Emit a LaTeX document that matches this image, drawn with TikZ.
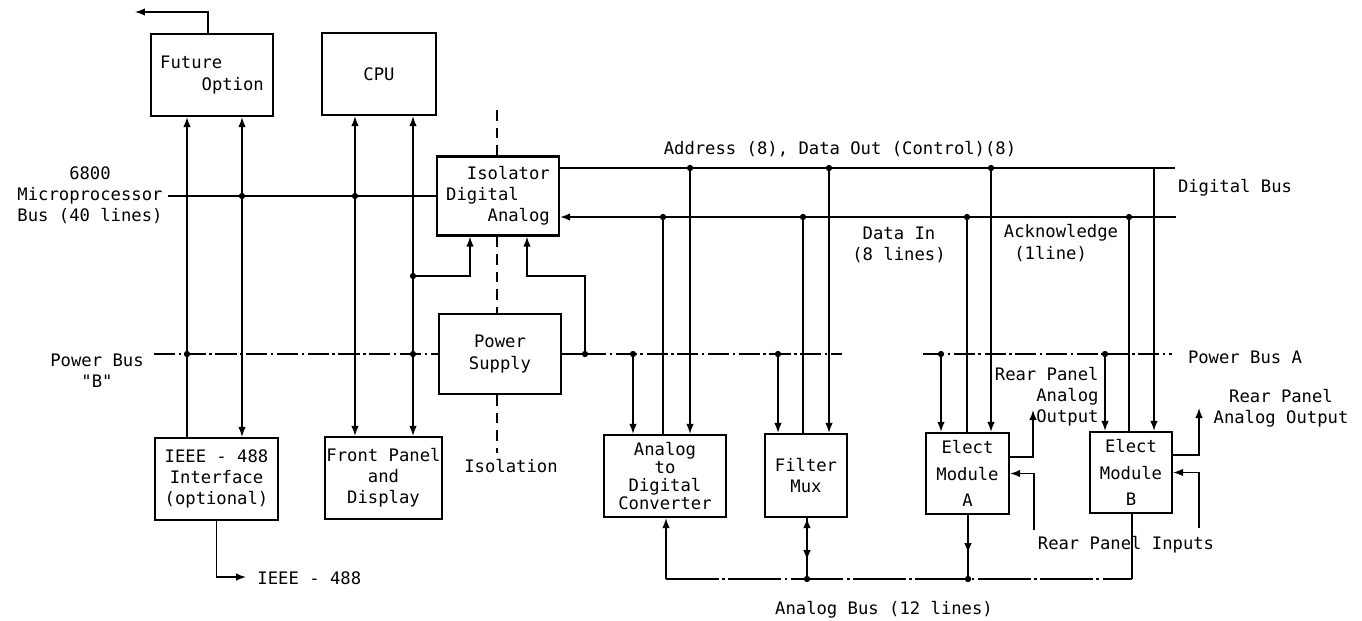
\documentclass[tikz,border=0pt]{standalone}
\usepackage{fontspec}
\setmonofont{DejaVu Sans Mono}
\usepackage{tikz}
\usetikzlibrary{arrows.meta}

\begin{document}
\begin{tikzpicture}[
  x=0.02cm, y=-0.02cm,
  >={Latex[length=2mm,width=1.5mm]},
  line width=0.8pt,
  box/.style={draw, line width=1.3pt, align=center, inner sep=1pt,
    font=\ttfamily\fontsize{9.8}{12}\selectfont},
  lbl/.style={align=center, inner sep=1pt, font=\ttfamily\fontsize{9.8}{12}\selectfont},
  pbus/.style={dash pattern=on 12pt off 2pt on 1.5pt off 2pt},
  abus/.style={dash pattern=on 30pt off 2pt on 1.5pt off 2pt},
  isol/.style={dash pattern=on 6pt off 4pt}
]
\useasboundingbox (0,0) rectangle (1362,620);
% blocks
\node[box, minimum width=2.44cm, minimum height=1.64cm, align=left] (fut) at (212,75)
  {Future\\\phantom{Futu}Option};
\node[box, minimum width=2.28cm, minimum height=1.64cm] (cpu) at (379,74) {CPU};
\node[box, minimum width=2.44cm, minimum height=1.58cm, align=left] (iso) at (498,196)
  {\phantom{Is}Isolator\\Digital\\\phantom{Isol}Analog};
\node[box, minimum width=2.44cm, minimum height=1.6cm] (psu) at (500,354) {Power\\Supply};
\node[box, minimum width=2.46cm, minimum height=1.64cm] (ieee) at (216.5,479)
  {IEEE - 488\\Interface\\(optional)};
\node[box, minimum width=2.34cm, minimum height=1.64cm] (fpd) at (383.5,478)
  {Front Panel\\and\\Display};
\node[box, minimum width=2.44cm, minimum height=1.64cm, font=\ttfamily\fontsize{9.8}{10.4}\selectfont]
  (adc) at (665,476) {Analog\\to\\Digital\\Converter};
\node[box, minimum width=1.64cm, minimum height=1.66cm] (fmux) at (806,475.5) {Filter\\Mux};
\node[box, minimum width=1.66cm, minimum height=1.62cm, font=\ttfamily\fontsize{9.8}{15}\selectfont]
  (ema) at (967.5,473.5) {Elect\\Module\\A};
\node[box, minimum width=1.64cm, minimum height=1.62cm, font=\ttfamily\fontsize{9.8}{15}\selectfont]
  (emb) at (1131,472.5) {Elect\\Module\\B};

% labels
\node[lbl] (mpulbl) at (90,195) {6800\\Microprocessor\\Bus (40 lines)};
\node[lbl] (pwrblbl) at (97,371) {Power Bus\\"B"};
\node[lbl] (addrlbl) at (840,149) {Address (8), Data Out (Control)(8)};
\node[lbl] (diglbl) at (1235,188) {Digital Bus};
\node[lbl] (dinlbl) at (899,245) {Data In\\(8 lines)};
\node[lbl, align=left] (acklbl) at (1061,243) {Acknowledge\\\phantom{A}(1line)};
\node[lbl] (pwralbl) at (1245,357) {Power Bus A};
\node[lbl, align=right, anchor=east] (rpalbl) at (1101,397) {Rear Panel\\Analog\\Output};
\node[lbl] (rpblbl) at (1281,408) {Rear Panel\\Analog Output};
\node[lbl] (rpinlbl) at (1126,545) {Rear Panel Inputs};
\node[lbl] (abuslbl) at (884,610) {Analog Bus (12 lines)};
\node[lbl] (isollbl) at (511,466) {Isolation};

% bus points
\coordinate (mpuL) at (168,196);
\coordinate (mj1) at (242,196);
\coordinate (mj2) at (355,196);
\coordinate (pbL) at (154,354);
\coordinate (pj1) at (187,354);
\coordinate (pj2) at (413,354);
\coordinate (kj) at (413,276);
\coordinate (pj3) at (585,354);
\coordinate (pj4) at (633,354);
\coordinate (pj5) at (778,354);
\coordinate (pbM) at (842,354);
\coordinate (pbN) at (923,354);
\coordinate (pj6) at (941,354);
\coordinate (pj7) at (1105,354);
\coordinate (pbR) at (1172,354);
\coordinate (adR) at (1175,168);
\coordinate (aj1) at (690,168);
\coordinate (aj2) at (829,168);
\coordinate (aj3) at (991,168);
\coordinate (aj4) at (1154,168);
\coordinate (diR) at (1176,217);
\coordinate (dj1) at (663,217);
\coordinate (dj2) at (803,217);
\coordinate (dj3) at (967,217);
\coordinate (dj4) at (1129,217);
\coordinate (ab0) at (666,579);
\coordinate (abj1) at (807,579);
\coordinate (abj2) at (968,579);
\coordinate (ab4) at (1132,579);
\coordinate (ia1) at (470,0);
\coordinate (ia2) at (527,0);
\coordinate (fx) at (208,0);
\coordinate (futout) at (135,12);
\coordinate (ieeeout) at (246,577);
\coordinate (aoA) at (1033,410);
\coordinate (aiA) at (1034,530);
\coordinate (aoB) at (1199,408);
\coordinate (aiB) at (1199,528);
\coordinate (isT) at (497,110);
\coordinate (isB) at (497,453);

% left side
\draw[->] (fut.north -| fx) |- (futout);
\draw (mpuL) -- (iso.west);
\draw[->] (ieee.north -| pj1) -- (fut.south -| pj1);
\draw[<->] (ieee.north -| mj1) -- (fut.south -| mj1);
\draw[<->] (fpd.north -| mj2) -- (cpu.south -| mj2);
\draw[<->] (fpd.north -| pj2) -- (cpu.south -| pj2);
\draw[->] (kj) -| (iso.south -| ia1);
\draw[->] (pj3) |- (kj -| ia2) -- (iso.south -| ia2);
\draw[->] (ieee.south) |- (ieeeout);
\node[lbl, anchor=west] (ieeelbl) at (255,578) {IEEE - 488};

% power bus
\draw[pbus] (pbL) -- (psu.west);
\draw (psu.east) -- (pj3);
\draw[pbus] (pj3) -- (pbM);
\draw[pbus] (pbN) -- (pbR);

% isolation
\draw[isol] (isT) -- (iso.north -| isT);
\draw[isol] (iso.south -| isT) -- (psu.north -| isT);
\draw[isol] (psu.south -| isT) -- (isB);

% digital bus
\draw (iso.east |- adR) -- (adR);
\draw[->] (diR) -- (iso.east |- diR);
\draw[->] (pj4) -- (adc.north -| pj4);
\draw (dj1) -- (adc.north -| dj1);
\draw[->] (aj1) -- (adc.north -| aj1);
\draw[->] (pj5) -- (fmux.north -| pj5);
\draw (dj2) -- (fmux.north -| dj2);
\draw[->] (aj2) -- (fmux.north -| aj2);
\draw[->] (pj6) -- (ema.north -| pj6);
\draw (dj3) -- (ema.north -| dj3);
\draw[->] (aj3) -- (ema.north -| aj3);
\draw[->] (pj7) -- (emb.north -| pj7);
\draw (dj4) -- (emb.north -| dj4);
\draw[->] (aj4) -- (emb.north -| aj4);

% rear panel
\draw[->] (ema.east |- 0,457) -| (aoA);
\draw[->] (aiA) |- (ema.east);
\draw[->] (emb.east |- 0,455) -| (aoB);
\draw[->] (aiB) |- (emb.east);

% analog bus
\draw[abus] (ab0) -- (ab4);
\draw[->] (ab0) -- (adc.south -| ab0);
\draw[->] (abj1) -- (fmux.south -| abj1);
\draw[->] (fmux.south -| abj1) -- ++(0,42);
\draw (ema.south -| abj2) -- (abj2);
\draw[->] (ema.south -| abj2) -- ++(0,38);
\draw (emb.south -| ab4) -- (ab4);

% junctions
\fill (mj1) circle (1.8pt); \fill (mj2) circle (1.8pt);
\fill (pj1) circle (1.8pt); \fill (pj2) circle (1.8pt);
\fill (kj) circle (1.8pt); \fill (pj3) circle (1.8pt);
\fill (pj4) circle (1.8pt); \fill (pj5) circle (1.8pt);
\fill (pj6) circle (1.8pt); \fill (pj7) circle (1.8pt);
\fill (aj1) circle (1.8pt); \fill (aj2) circle (1.8pt);
\fill (aj3) circle (1.8pt);
\fill (dj1) circle (1.8pt); \fill (dj2) circle (1.8pt);
\fill (dj3) circle (1.8pt); \fill (dj4) circle (1.8pt);
\fill (abj1) circle (1.8pt); \fill (abj2) circle (1.8pt);
\end{tikzpicture}
\end{document}
